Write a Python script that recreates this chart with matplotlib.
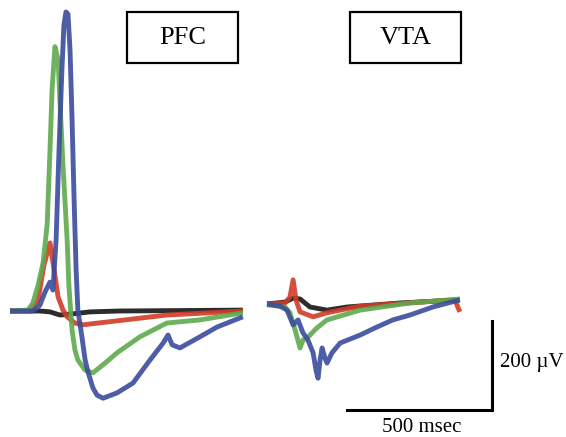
import matplotlib.pyplot as plt
from matplotlib.patches import Rectangle

# scale of the drawing: 500 msec per 145 px, 200 uV per 89 px
MS_PER_PX = 500 / 145
UV_PER_PX = 200 / 89

# PFC traces (time in ms, voltage in uV)
pfc_black_t = [0, 103, 138, 172, 207, 276, 379, 803]
pfc_black_v = [0, 0, -2, -9, -7, -2, 0, 2]

pfc_red_t = [0, 69, 97, 117, 138, 152, 166, 183, 197, 224, 252, 397, 541, 690, 803]
pfc_red_v = [0, 0, 25, 103, 153, 92, 31, 2, -13, -27, -31, -20, -9, -4, 0]

pfc_green_t = [0, 62, 79, 97, 114, 128, 138, 145, 155, 166, 172, 183, 197, 203,
               214, 224, 234, 259, 286, 328, 369, 448, 541, 655, 803]
pfc_green_v = [0, 2, 18, 58, 108, 193, 362, 497, 594, 564, 474, 324, 160, 58,
               -43, -88, -110, -133, -139, -117, -94, -58, -27, -20, -4]

pfc_blue_t = [0, 79, 103, 121, 138, 148, 159, 169, 179, 186, 193, 200, 207, 214,
              221, 228, 234, 248, 259, 269, 286, 300, 321, 369, 424, 483, 528,
              545, 559, 586, 655, 714, 803]
pfc_blue_v = [0, 0, 13, 43, 65, 47, 160, 362, 542, 643, 672, 667, 587, 430,
              250, 92, 2, -58, -110, -137, -173, -189, -196, -184, -162, -110,
              -72, -54, -76, -83, -58, -36, -13]

# VTA traces
vta_black_t = [0, 62, 90, 114, 148, 207, 276, 459, 665]
vta_black_v = [-2, 2, 11, 9, -9, -16, -9, 0, 7]

vta_red_t = [0, 62, 79, 90, 100, 114, 159, 207, 321, 528, 648, 665]
vta_red_v = [-2, 0, 13, 52, 7, -20, -31, -22, -7, 2, 7, -20]

vta_green_t = [0, 62, 79, 97, 114, 124, 138, 172, 207, 321, 493, 665]
vta_green_v = [-4, -9, -22, -61, -101, -83, -79, -56, -38, -16, 0, 9]

vta_blue_t = [0, 45, 69, 90, 107, 124, 141, 159, 169, 176, 183, 190, 200, 207,
              224, 252, 321, 379, 434, 493, 572, 665]
vta_blue_v = [-2, -7, -16, -49, -38, -67, -83, -112, -151, -169, -128, -101,
              -124, -135, -112, -90, -72, -54, -38, -27, -9, 7]

scale_ms = 500
scale_uv = 200

colors = {'black': '#151515', 'red': '#d23c28', 'green': '#5eaa4e', 'blue': '#3b4c9c'}

W, H = 566, 437
fig = plt.figure(figsize=(W / 100, H / 100), dpi=100)
ax = fig.add_axes([0, 0, 1, 1])
ax.set_xlim(0, W * MS_PER_PX)
ax.set_ylim(-H * UV_PER_PX, 0)
ax.axis('off')


def draw_panel(x0, y0, traces):
    # x0, y0: pixel position of the trace origin
    ox = x0 * MS_PER_PX
    oy = -y0 * UV_PER_PX
    for t, v, c in traces:
        ax.plot([ti + ox for ti in t], [vi + oy for vi in v], color=colors[c],
                lw=3.5, alpha=0.9, solid_joinstyle='round', solid_capstyle='butt')


draw_panel(10, 311, [(pfc_black_t, pfc_black_v, 'black'),
                     (pfc_red_t, pfc_red_v, 'red'),
                     (pfc_green_t, pfc_green_v, 'green'),
                     (pfc_blue_t, pfc_blue_v, 'blue')])
draw_panel(267, 303, [(vta_black_t, vta_black_v, 'black'),
                      (vta_red_t, vta_red_v, 'red'),
                      (vta_green_t, vta_green_v, 'green'),
                      (vta_blue_t, vta_blue_v, 'blue')])

# scale bars
cx, cy = 492 * MS_PER_PX, -410 * UV_PER_PX
ax.plot([cx - scale_ms, cx, cx], [cy, cy, cy + scale_uv], color='black', lw=2.2,
        solid_joinstyle='miter')

serif = 'Liberation Serif'
fig.text(500 / W, 1 - 362 / H, '200 µV', family=serif, fontsize=15, va='center', ha='left')
fig.text(422 / W, 1 - 427 / H, '500 msec', family=serif, fontsize=15, va='center', ha='center')

# region labels in boxes
for label, left in [('PFC', 127), ('VTA', 350)]:
    fig.add_artist(Rectangle((left / W, 1 - 63 / H), 111 / W, 51 / H,
                             transform=fig.transFigure, fill=False, lw=1.6, color='black'))
    fig.text((left + 55.5) / W, 1 - 38 / H, label, family=serif, fontsize=19,
             ha='center', va='center')

fig.savefig('out.png', dpi=100)
